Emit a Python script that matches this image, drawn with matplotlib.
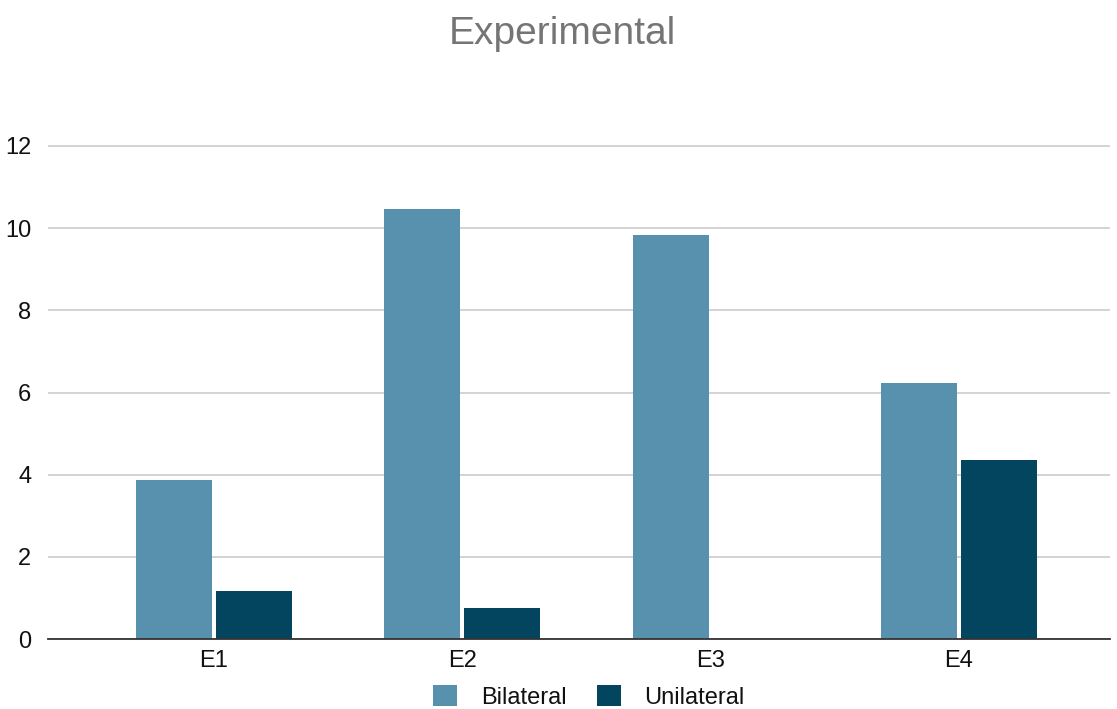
import matplotlib
matplotlib.use("Agg")
import matplotlib.pyplot as plt
import numpy as np

categories = ["E1", "E2", "E3", "E4"]
bilateral = [3.87, 10.47, 9.83, 6.22]
unilateral = [1.18, 0.75, 0.0, 4.36]
series_names = ["Bilateral", "Unilateral"]
colors = ["#5891AE", "#03455F"]

plt.rcParams['font.family'] = ['Liberation Sans', 'DejaVu Sans']

fig = plt.figure(figsize=(11.17, 7.09), dpi=100)
W, H = 1117, 709
ax = fig.add_axes([48 / W, 1 - 639 / H, (1110 - 48) / W, (639 - 146) / H * 13.0 / 12.0])

x = np.arange(len(categories))
bw = 0.306
gap = 0.008
ax.bar(x - bw / 2 - gap, bilateral, width=bw, color=colors[0], label=series_names[0], zorder=3)
ax.bar(x + bw / 2 + gap, unilateral, width=bw, color=colors[1], label=series_names[1], zorder=3)

ax.set_ylim(0, 13)
ax.set_yticks([0, 2, 4, 6, 8, 10, 12])
ax.set_xlim(-0.6685, 3.608)
ax.set_xticks(x)
ax.set_xticklabels(categories)
ax.grid(axis='y', color='#cccccc', linewidth=1.2, zorder=0)
for s in ['top', 'right', 'left']:
    ax.spines[s].set_visible(False)
ax.spines['bottom'].set_color('#333333')
ax.spines['bottom'].set_linewidth(1.3)
ax.spines['bottom'].set_zorder(4)
ax.tick_params(axis='both', length=0, labelsize=17, colors='#111111')
ax.tick_params(axis='y', pad=12)
ax.tick_params(axis='x', pad=8)

fig.text(562 / W, 1 - 34 / H, "Experimental", ha='center', va='center', fontsize=28, color='#757575')

leg = fig.legend(loc='center', bbox_to_anchor=(589 / W, 1 - 697 / H), ncol=2, frameon=False,
                 fontsize=17, handlelength=1.0, handleheight=1.0, columnspacing=1.3,
                 handletextpad=1.0, borderaxespad=0)
for t in leg.get_texts():
    t.set_color('#111111')

fig.savefig("out.png", dpi=100)
